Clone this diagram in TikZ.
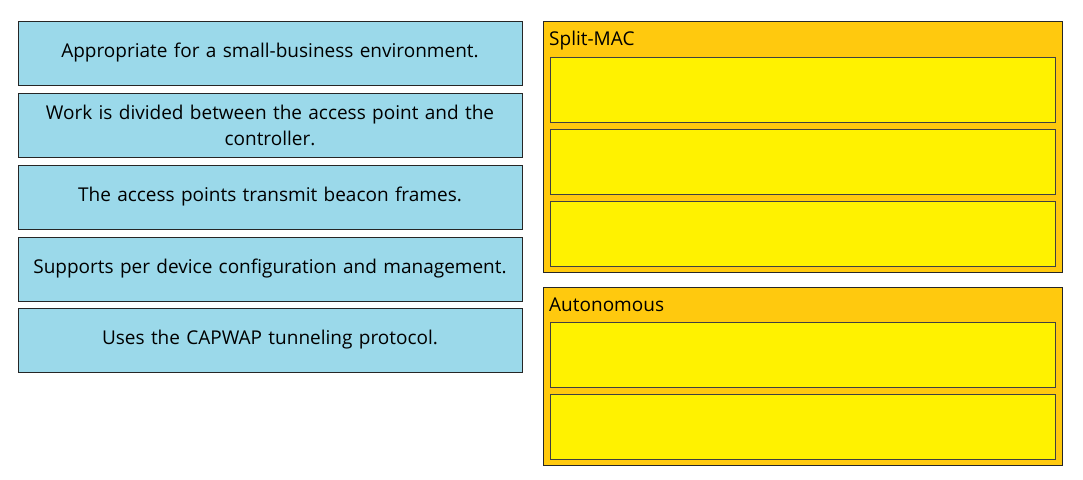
\documentclass[tikz,border=0pt]{standalone}
\usepackage{fontspec}
\setmainfont{Open Sans}
\definecolor{cardblue}{RGB}{155,217,234}
\definecolor{groupgold}{RGB}{255,201,14}
\definecolor{slotyellow}{RGB}{255,242,0}
\begin{document}
\begin{tikzpicture}[x=1pt, y=-1pt,
    card/.style={draw=black!85, fill=cardblue, line width=0.9pt, rectangle, inner sep=0pt,
      minimum width=504pt, minimum height=64pt, align=center, text width=496pt, font=\fontsize{19}{26}\selectfont},
    group/.style={draw=black!85, fill=groupgold, line width=0.9pt, rectangle, inner sep=0pt, minimum width=519pt},
    slot/.style={draw=black!75, fill=slotyellow, line width=0.9pt, rectangle, inner sep=0pt,
      minimum width=505pt, minimum height=65pt},
    title/.style={anchor=base west, inner sep=0pt, font=\fontsize{19}{26}\selectfont}]
      \useasboundingbox (0, 0) rectangle (1083, 479);

      \node[card] (c1) at (270, 53) {Appropriate for a small-business environment.};
      \node[card] (c2) at (270, 125) {Work is divided between the access point and the\\controller.};
      \node[card] (c3) at (270, 197) {The access points transmit beacon frames.};
      \node[card] (c4) at (270, 269) {Supports per device configuration and management.};
      \node[card] (c5) at (270, 340) {Uses the CAPWAP tunneling protocol.};

      \node[group, minimum height=251pt] (split) at (802.5, 146.5) {};
      \node[title] (splitlabel) at (549, 45) {Split-MAC};
      \node[slot] (s1) at (802.5, 89.5) {};
      \node[slot] (s2) at (802.5, 161.5) {};
      \node[slot] (s3) at (802.5, 233.5) {};

      \node[group, minimum height=178pt] (auto) at (802.5, 376) {};
      \node[title] (autolabel) at (549, 311) {Autonomous};
      \node[slot] (a1) at (802.5, 355) {};
      \node[slot] (a2) at (802.5, 427) {};
    \end{tikzpicture}
\end{document}
